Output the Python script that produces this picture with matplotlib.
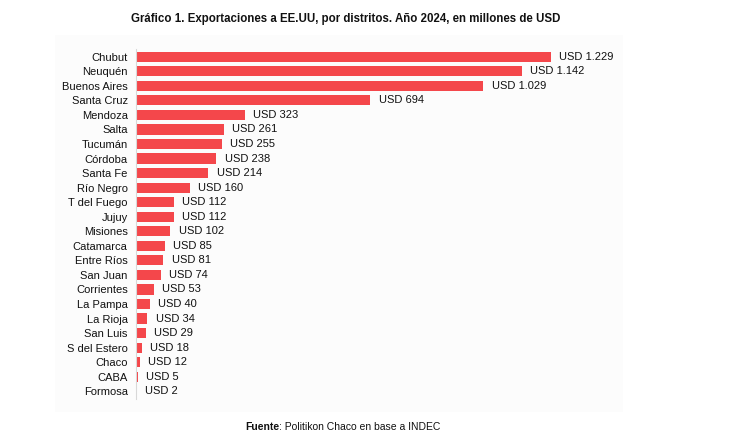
import matplotlib
matplotlib.use("Agg")
import matplotlib.pyplot as plt
from matplotlib.patches import Rectangle

# ---- data (millones de USD, 2024) ----
DISTRITOS = ["Chubut", "Neuquén", "Buenos Aires", "Santa Cruz", "Mendoza", "Salta",
             "Tucumán", "Córdoba", "Santa Fe", "Río Negro", "T del Fuego", "Jujuy",
             "Misiones", "Catamarca", "Entre Ríos", "San Juan", "Corrientes",
             "La Pampa", "La Rioja", "San Luis", "S del Estero", "Chaco", "CABA",
             "Formosa"]
VALORES = [1229, 1142, 1029, 694, 323, 261, 255, 238, 214, 160, 112, 112, 102,
           85, 81, 74, 53, 40, 34, 29, 18, 12, 5, 2]

RED = "#f4474b"
INK = "#111111"
plt.rcParams["font.family"] = ["Liberation Sans", "DejaVu Sans"]

W, H = 732, 445
fig = plt.figure(figsize=(W / 100, H / 100), dpi=100)

# faint background panel behind the chart
panel = Rectangle((55 / W, 1 - 412 / H), (623 - 55) / W, (412 - 35) / H,
                  transform=fig.transFigure, facecolor="#fcfcfc",
                  edgecolor="none", zorder=-5)
fig.add_artist(panel)

ax = fig.add_axes([136 / W, 1 - 398.6 / H, (623 - 136) / W, (398.6 - 49.4) / H])
ax.patch.set_alpha(0)
n = len(DISTRITOS)
ys = list(range(n))
ax.barh(ys, VALORES, height=0.7, color=RED, zorder=2)
for y, v in zip(ys, VALORES):
    lab = f"{v:,}".replace(",", ".")
    ax.annotate(f"USD {lab}", xy=(v, y), xytext=(6, 0), textcoords="offset points",
                va="center", ha="left", fontsize=8, color=INK)

ax.set_ylim(n - 0.5, -0.5)
ax.set_xlim(0, 487 / (415 / 1229))
ax.set_yticks(ys)
ax.set_yticklabels(DISTRITOS, fontsize=8, color=INK)
ax.tick_params(axis="y", length=0, pad=6)
ax.set_xticks([])
for s in ["top", "right", "bottom"]:
    ax.spines[s].set_visible(False)
ax.spines["left"].set_color("#d8d8d8")
ax.spines["left"].set_linewidth(0.8)

fig.text(131 / W, 1 - 19 / H,
         "Gráfico 1. Exportaciones a EE.UU, por distritos. Año 2024, en millones de USD",
         fontsize=8.3, fontweight="bold", ha="left", va="center", color=INK)

# source line: bold "Fuente" followed by regular text
src_y = 1 - 427 / H
t1 = fig.text(245 / W, src_y, "Fuente", fontsize=7.5, fontweight="bold",
              ha="left", va="center", color=INK)
fig.canvas.draw()
bb = t1.get_window_extent()
fig.text(bb.x1 / W, src_y, ": Politikon Chaco en base a INDEC",
         fontsize=7.5, ha="left", va="center", color=INK)

fig.savefig("out.png", dpi=100)
